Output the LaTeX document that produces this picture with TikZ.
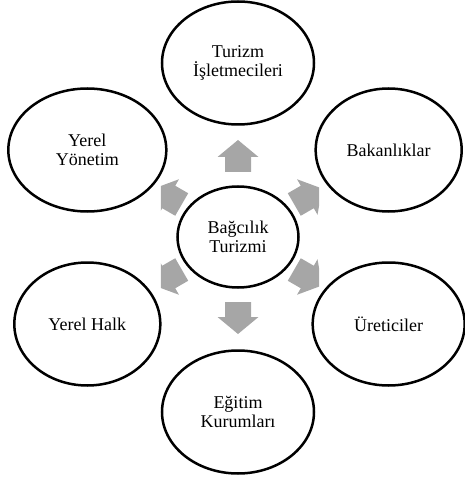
\documentclass[tikz,border=0pt]{standalone}
\usepackage{fontspec}
\setmainfont{Liberation Serif}
\usetikzlibrary{shapes.geometric}
\definecolor{arrowgray}{RGB}{166,166,166}

\begin{document}
\begin{tikzpicture}[x=1pt, y=1pt,
    actor/.style={ellipse, draw, line width=2.5pt, minimum width=152pt, minimum height=123pt,
      inner sep=0pt, align=center, font=\fontsize{18}{19}\selectfont},
    hub/.style={actor, minimum width=121pt, minimum height=101pt}]
    \useasboundingbox (-238,237) rectangle (226,-242);
    \node[hub](bt) at (0,0){Bağcılık\\Turizmi};
    \node[actor](ti) at (90:174){Turizm\\İşletmecileri};
    \node[actor, minimum width=146pt](bk) at (30:174){Bakanlıklar};
    \node[actor](ur) at (-30:174){Üreticiler};
    \node[actor](ek) at (-90:175){Eğitim\\Kurumları};
    \node[actor, minimum width=146pt](yh) at (-150:174){Yerel Halk};
    \node[actor, minimum width=158pt](yy) at (150:174){Yerel\\Yönetim};
    % block arrows from the hub
    \begin{scope}
      \clip (-77,120) rectangle (81,-120);
      \foreach \a in {90,30,-30,-90,-150,150}
        \fill[arrowgray, rotate=\a] (65,-13) -- (80,-13) -- (80,-20.5) -- (97,0)
          -- (80,20.5) -- (80,13) -- (65,13) -- cycle;
    \end{scope}
\end{tikzpicture}
\end{document}
